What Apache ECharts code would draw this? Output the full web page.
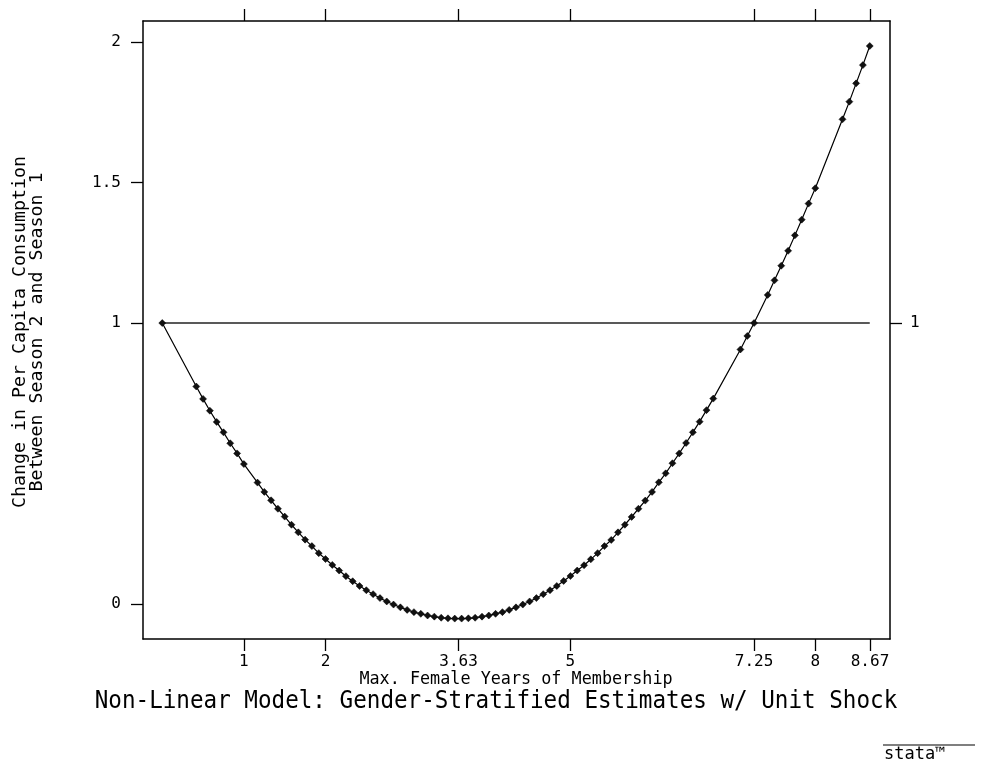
<!DOCTYPE html>
<html>
<head>
<meta charset="utf-8">
<script src="https://cdn.jsdelivr.net/npm/echarts@6/dist/echarts.min.js"></script>
<style>
  html, body { margin: 0; background: #fff; }
  #main { width: 982px; height: 771px; }
</style>
</head>
<body>
<div id="main"></div>
<script>
// years of membership (x) and estimated change (y)
var yearsX = [
  0, 0.417, 0.5, 0.583, 0.667, 0.75, 0.833, 0.917, 1,
  1.167, 1.25, 1.333, 1.417, 1.5, 1.583, 1.667, 1.75, 1.833, 1.917, 2,
  2.083, 2.167, 2.25, 2.333, 2.417, 2.5, 2.583, 2.667, 2.75, 2.833, 2.917, 3,
  3.083, 3.167, 3.25, 3.333, 3.417, 3.5, 3.583, 3.667, 3.75, 3.833, 3.917, 4,
  4.083, 4.167, 4.25, 4.333, 4.417, 4.5, 4.583, 4.667, 4.75, 4.833, 4.917, 5,
  5.083, 5.167, 5.25, 5.333, 5.417, 5.5, 5.583, 5.667, 5.75, 5.833, 5.917, 6,
  6.083, 6.167, 6.25, 6.333, 6.417, 6.5, 6.583, 6.667, 6.75,
  7.083, 7.167, 7.25, 7.417, 7.5, 7.583, 7.667, 7.75, 7.833, 7.917, 8,
  8.333, 8.417, 8.5, 8.583, 8.667
];
var changeY = [
  1.0, 0.774, 0.730, 0.688, 0.648, 0.611, 0.572, 0.536, 0.498,
  0.432, 0.399, 0.369, 0.339, 0.311, 0.282, 0.255, 0.229, 0.206, 0.181, 0.160,
  0.139, 0.119, 0.099, 0.081, 0.064, 0.049, 0.035, 0.021, 0.009, -0.002, -0.012, -0.021,
  -0.029, -0.035, -0.041, -0.045, -0.049, -0.051, -0.052, -0.052, -0.051, -0.049, -0.045, -0.041,
  -0.035, -0.029, -0.021, -0.012, -0.002, 0.009, 0.021, 0.035, 0.049, 0.064, 0.082, 0.0996,
  0.119, 0.138, 0.159, 0.181, 0.206, 0.228, 0.255, 0.282, 0.310, 0.339, 0.368, 0.399,
  0.433, 0.465, 0.501, 0.536, 0.573, 0.611, 0.649, 0.690, 0.731,
  0.906, 0.954, 1.0, 1.100, 1.152, 1.204, 1.257, 1.312, 1.368, 1.425, 1.480,
  1.725, 1.788, 1.853, 1.918, 1.986
];
var xTicks = [1, 2, 3.63, 5, 7.25, 8, 8.67];
var yTicksLeft = [0, 1, 1.5, 2];
var yTicksRight = [1];
var refX = [0, 8.667];
var refY = [1, 1];

var titleText = 'Non-Linear Model: Gender-Stratified Estimates w/ Unit Shock';
var xTitle = 'Max. Female Years of Membership';
var yTitle = 'Change in Per Capita Consumption\nBetween Season 2 and Season 1';

var mono = '"DejaVu Sans Mono", monospace';

var chart = echarts.init(document.getElementById('main'));

var curve = yearsX.map(function (x, i) { return [x, changeY[i]]; });
var ref = refX.map(function (x, i) { return [x, refY[i]]; });

function xAx(pos, showLabel) {
  return {
    type: 'value', position: pos, min: -0.236, max: 8.915,
    axisLine: { show: true, onZero: false, lineStyle: { color: '#000', width: 1.5 } },
    axisTick: { show: true, customValues: xTicks, length: 12, lineStyle: { color: '#000', width: 1.3 } },
    axisLabel: { show: showLabel, customValues: xTicks, margin: 15, color: '#000', fontFamily: mono, fontSize: 16 },
    splitLine: { show: false }
  };
}
function yAx(pos, ticks, margin) {
  return {
    type: 'value', position: pos, min: -0.1246, max: 2.075,
    axisLine: { show: true, onZero: false, lineStyle: { color: '#000', width: 1.5 } },
    axisTick: { show: true, customValues: ticks, length: 12, lineStyle: { color: '#000', width: 1.3 } },
    axisLabel: { show: true, customValues: ticks, margin: margin, color: '#000', fontFamily: mono, fontSize: 16 },
    splitLine: { show: false }
  };
}

chart.setOption({
  animation: false,
  backgroundColor: '#fff',
  grid: { left: 143, top: 21, width: 747, height: 618, containLabel: false },
  xAxis: [xAx('bottom', true), xAx('top', false)],
  yAxis: [yAx('left', yTicksLeft, 22), yAx('right', yTicksRight, 20)],
  series: [
    {
      type: 'line', data: ref, symbol: 'none',
      lineStyle: { color: '#222', width: 1.5 }
    },
    {
      type: 'line', data: curve, symbol: 'diamond', symbolSize: 7,
      itemStyle: { color: '#111', borderColor: '#000', borderWidth: 0.5 },
      lineStyle: { color: '#000', width: 1.2 }
    }
  ],
  graphic: [
    {
      type: 'text', x: 29, y: 332, rotation: Math.PI / 2,
      style: { text: yTitle, font: '18.3px ' + mono, fill: '#000', align: 'center', verticalAlign: 'middle', lineHeight: 17.5 }
    },
    {
      type: 'text', x: 516, y: 680,
      style: { text: xTitle, font: '16.8px ' + mono, fill: '#000', align: 'center', verticalAlign: 'middle' }
    },
    {
      type: 'text', x: 496, y: 702, scaleY: 1.1,
      style: { text: titleText, font: '22.6px ' + mono, fill: '#000', align: 'center', verticalAlign: 'middle' }
    },
    {
      type: 'line', shape: { x1: 883, y1: 745, x2: 975, y2: 745 },
      style: { stroke: '#000', lineWidth: 1.2 }
    },
    {
      type: 'text', x: 884, y: 755,
      style: { text: 'stata\u2122', font: '17px ' + mono, fill: '#000', align: 'left', verticalAlign: 'middle' }
    }
  ]
});
</script>
</body>
</html>
